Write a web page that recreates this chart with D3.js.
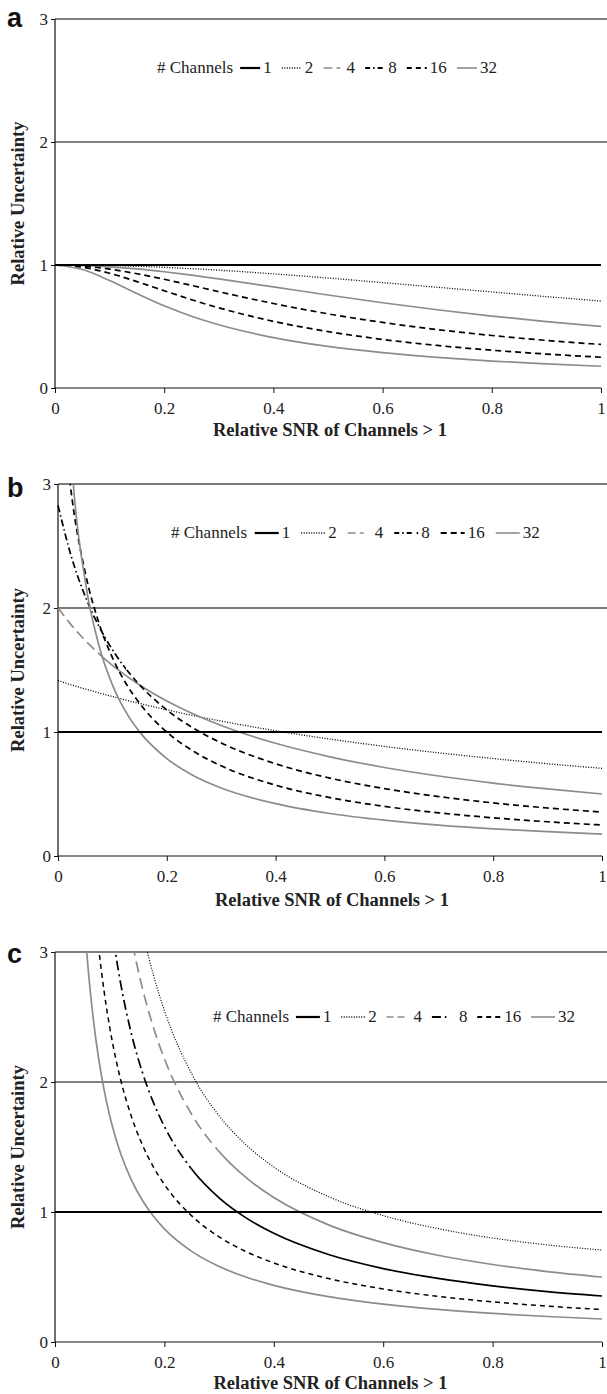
<!DOCTYPE html>
<html>
<head>
<meta charset="utf-8">
<title>Relative uncertainty vs relative SNR</title>
<style type="text/css">
	body { margin: 0; background: #fff; }
	svg { display: block; }
	.tick-label { font-family: "Liberation Serif", "DejaVu Serif", serif; font-size: 17px; fill: #222; }
	.axis-title { font-family: "Liberation Serif", "DejaVu Serif", serif; font-size: 18.5px; font-weight: bold; fill: #222; }
	.legend-text { font-family: "Liberation Serif", "DejaVu Serif", serif; font-size: 17px; fill: #222; }
	.panel-letter { font-family: "Liberation Sans", Arial, sans-serif; font-size: 27px; font-weight: bold; fill: #111; }
</style>
<script src="https://d3js.org/d3.v7.min.js"></script>
</head>
<body>
<div id="container"></div>
<script type="text/javascript">
// series labels (number of channels)
var channels = [1, 2, 4, 8, 16, 32];
var xTicks = [0, 0.2, 0.4, 0.6, 0.8, 1];
var xTickLabels = ['0', '0.2', '0.4', '0.6', '0.8', '1'];
var yTicks = [0, 1, 2, 3];

// panel a
var snrA = [0, 0.05, 0.1, 0.15, 0.2, 0.25, 0.3, 0.4, 0.5, 0.6, 0.7, 0.8, 0.9, 1];
var a1  = [1, 1, 1, 1, 1, 1, 1, 1, 1, 1, 1, 1, 1, 1];
var a2  = [1, 0.999, 0.995, 0.989, 0.981, 0.97, 0.958, 0.928, 0.894, 0.857, 0.819, 0.781, 0.743, 0.707];
var a4  = [1, 0.996, 0.985, 0.968, 0.945, 0.918, 0.887, 0.822, 0.756, 0.693, 0.636, 0.585, 0.54, 0.5];
var a8  = [1, 0.991, 0.967, 0.929, 0.884, 0.834, 0.783, 0.687, 0.603, 0.533, 0.475, 0.427, 0.387, 0.354];
var a16 = [1, 0.982, 0.933, 0.865, 0.791, 0.718, 0.652, 0.542, 0.459, 0.395, 0.346, 0.307, 0.276, 0.25];
var a32 = [1, 0.963, 0.874, 0.768, 0.668, 0.583, 0.514, 0.41, 0.338, 0.287, 0.249, 0.219, 0.196, 0.177];

// panel b
var snrB = [0, 0.025, 0.05, 0.075, 0.1, 0.125, 0.15, 0.2, 0.25, 0.3, 0.4, 0.5, 0.6, 0.7, 0.8, 0.9, 1];
var b1  = [1, 1, 1, 1, 1, 1, 1, 1, 1, 1, 1, 1, 1, 1, 1, 1, 1];
var b2  = [1.414, 1.38, 1.347, 1.316, 1.286, 1.257, 1.23, 1.179, 1.131, 1.088, 1.01, 0.943, 0.884, 0.832, 0.786, 0.744, 0.707];
var b4  = [2, 1.86, 1.739, 1.633, 1.538, 1.455, 1.379, 1.25, 1.143, 1.053, 0.909, 0.8, 0.714, 0.645, 0.588, 0.541, 0.5];
var b8  = [2.828, 2.407, 2.095, 1.855, 1.664, 1.508, 1.38, 1.178, 1.028, 0.912, 0.744, 0.628, 0.544, 0.479, 0.428, 0.387, 0.354];
var b16 = [4, 2.909, 2.286, 1.882, 1.6, 1.391, 1.231, 1.0, 0.842, 0.727, 0.571, 0.471, 0.4, 0.348, 0.308, 0.276, 0.25];
var b32 = [5.657, 3.187, 2.218, 1.701, 1.38, 1.16, 1.001, 0.786, 0.646, 0.549, 0.422, 0.343, 0.289, 0.249, 0.219, 0.196, 0.177];

// panel c (the single-channel line is flat, so it only needs its two ends)
var snrC1 = [0, 1];
var c1  = [1, 1];
var snrC = [0.05, 0.06, 0.07, 0.08, 0.09, 0.1, 0.11, 0.12, 0.14, 0.16, 0.18, 0.2, 0.25, 0.3, 0.35, 0.4, 0.5, 0.6, 0.7, 0.8, 0.9, 1];
var c2  = [10.01, 8.35, 7.16, 6.27, 5.58, 5.025, 4.573, 4.196, 3.606, 3.165, 2.822, 2.55, 2.062, 1.74, 1.514, 1.346, 1.118, 0.972, 0.872, 0.8, 0.747, 0.707];
var c4  = [8.66, 7.22, 6.19, 5.42, 4.82, 4.337, 3.944, 3.617, 3.103, 2.718, 2.419, 2.179, 1.75, 1.465, 1.262, 1.111, 0.901, 0.764, 0.667, 0.596, 0.542, 0.5];
var c8  = [6.615, 5.51, 4.727, 4.136, 3.677, 3.31, 3.009, 2.759, 2.365, 2.071, 1.841, 1.658, 1.329, 1.109, 0.953, 0.836, 0.673, 0.565, 0.489, 0.432, 0.388, 0.354];
var c16 = [4.842, 4.035, 3.459, 3.027, 2.69, 2.421, 2.201, 2.018, 1.73, 1.514, 1.346, 1.212, 0.97, 0.809, 0.694, 0.608, 0.488, 0.408, 0.351, 0.309, 0.276, 0.25];
var c32 = [3.48, 2.9, 2.486, 2.175, 1.933, 1.74, 1.582, 1.45, 1.243, 1.088, 0.967, 0.87, 0.697, 0.581, 0.498, 0.436, 0.349, 0.292, 0.251, 0.22, 0.196, 0.177];

var GRAY = '#8c8c8c';

// how each curve is stroked; "to" = x where the next style takes over
var lineStyles = {
	a: [
		[{ c: '#000', w: 2 }],
		[{ c: '#000', w: 1.3, dash: '1,1.6' }],
		[{ c: GRAY, w: 1.7 }],
		[{ c: '#000', w: 1.7, dash: '6,4' }],
		[{ c: '#000', w: 1.7, dash: '6,4' }],
		[{ c: GRAY, w: 1.7 }]
	],
	b: [
		[{ c: '#000', w: 2 }],
		[{ c: '#000', w: 1.3, dash: '1,1.6' }],
		[{ c: GRAY, w: 1.7, dash: '10,5', to: 0.075 }, { c: GRAY, w: 1.7 }],
		[{ c: '#000', w: 1.7, dash: '7,3,1.5,3', to: 0.125 }, { c: '#000', w: 1.7, dash: '6,4' }],
		[{ c: '#000', w: 1.7, dash: '6,4' }],
		[{ c: GRAY, w: 1.7 }]
	],
	c: [
		[{ c: '#000', w: 2 }],
		[{ c: '#000', w: 1.2, dash: '1,1.6' }],
		[{ c: GRAY, w: 1.7, dash: '11,6', to: 0.3 }, { c: GRAY, w: 1.7 }],
		[{ c: '#000', w: 1.7, dash: '10,4,2,4', to: 0.25 }, { c: '#000', w: 1.7 }],
		[{ c: '#000', w: 1.5, dash: '5,4' }],
		[{ c: GRAY, w: 1.7 }]
	]
};

// legend glyphs
var legendStyles = {
	a: [{ c: '#000', w: 2.2 }, { c: '#000', w: 1.3, dash: '1,1.5' }, { c: GRAY, w: 1.6, dash: '9,4,4,20' },
		{ c: '#000', w: 1.8, dash: '5,3,1.5,3,5' }, { c: '#000', w: 1.8, dash: '5,4' }, { c: GRAY, w: 1.6 }],
	b: [{ c: '#000', w: 2.2 }, { c: '#000', w: 1.3, dash: '1,1.5' }, { c: GRAY, w: 1.6, dash: '8,4,4,20' },
		{ c: '#000', w: 1.8, dash: '5,3,1.5,3,5' }, { c: '#000', w: 1.8, dash: '6,4' }, { c: GRAY, w: 1.6 }],
	c: [{ c: '#000', w: 2.2 }, { c: '#000', w: 1.3, dash: '1,1.5' }, { c: GRAY, w: 1.6, dash: '7,4,7,20' },
		{ c: '#000', w: 1.8, dash: '9,4,1.5,20' }, { c: '#000', w: 1.8, dash: '5,4' }, { c: GRAY, w: 1.6 }]
};

var panels = [
	{ key: 'a', snr: [snrA, snrA, snrA, snrA, snrA, snrA], series: [a1, a2, a4, a8, a16, a32],
		left: 55, right: 601, top: 19, bottom: 388,
		grid: { c: '#000', w: 1 }, legend: { x0: 157, x1: 500, y: 73, len: 20 }, letterY: 27, xTitleY: 436 },
	{ key: 'b', snr: [snrB, snrB, snrB, snrB, snrB, snrB], series: [b1, b2, b4, b8, b16, b32],
		left: 58, right: 602, top: 484, bottom: 856,
		grid: { c: '#7a7a7a', w: 1.8 }, legend: { x0: 171, x1: 543, y: 538, len: 24 }, letterY: 497, xTitleY: 906 },
	{ key: 'c', snr: [snrC1, snrC, snrC, snrC, snrC, snrC], series: [c1, c2, c4, c8, c16, c32],
		left: 55, right: 602, top: 952, bottom: 1342,
		grid: { c: '#000', w: 1 }, legend: { x0: 213, x1: 578, y: 1022, len: 24 }, letterY: 963, xTitleY: 1389 }
];

var width = 607, height = 1394;

var svg = d3.select('#container').append('svg')
		.attr('width', width)
		.attr('height', height);
var defs = svg.append('defs');

panels.forEach(function (p) {
	var g = svg.append('g').attr('class', 'panel-' + p.key);
	var x = d3.scaleLinear().domain([0, 1]).range([p.left, p.right]);
	var y = d3.scaleLinear().domain([0, 3]).range([p.bottom, p.top]);

	// gridlines at 2 and 3 run on to the page edge
	g.selectAll('.grid')
			.data([2, 3])
		.enter().append('line')
			.attr('x1', p.left).attr('x2', width)
			.attr('y1', function (d) { return y(d); })
			.attr('y2', function (d) { return y(d); })
			.attr('stroke', p.grid.c)
			.attr('stroke-width', p.grid.w);

	// axes
	var yAxis = d3.axisLeft(y).tickValues(yTicks).tickSize(4).tickFormat(d3.format('d'));
	var xAxis = d3.axisBottom(x).tickValues(xTicks).tickSize(5).tickFormat(function (d, i) { return xTickLabels[i]; });

	var gy = g.append('g').attr('transform', 'translate(' + p.left + ',0)').call(yAxis);
	var gx = g.append('g').attr('transform', 'translate(0,' + p.bottom + ')').call(xAxis);
	[gx, gy].forEach(function (ax) {
		ax.attr('font-family', null).attr('font-size', null);
		ax.select('.domain').attr('stroke', '#111').attr('stroke-width', 1.2);
		ax.selectAll('.tick line').attr('stroke', '#111');
		ax.selectAll('.tick text').attr('class', 'tick-label');
	});
	gy.select('.domain').attr('d', 'M0,' + (p.bottom + 1) + 'V' + p.top);
	gx.select('.domain').attr('d', 'M' + p.left + ',0H' + p.right);
	gy.selectAll('.tick text').attr('x', -7);
	gx.selectAll('.tick text').attr('y', 26).attr('dy', null);

	// curves
	var line = d3.line()
			.x(function (d) { return x(d[0]); })
			.y(function (d) { return y(d[1]); })
			.curve(d3.curveMonotoneX);

	var order = [1, 2, 3, 4, 5, 0];
	order.forEach(function (si) {
		var xs = p.snr[si];
		var pts = xs.map(function (s, i) { return [s, p.series[si][i]]; });
		var segs = lineStyles[p.key][si];
		var from = 0;
		segs.forEach(function (st, k) {
			var to = (st.to !== undefined) ? st.to : 1;
			var id = 'clip-' + p.key + '-' + si + '-' + k;
			var x0 = k === 0 ? p.left - 2 : x(from);
			var x1 = k === segs.length - 1 ? p.right + 2 : x(to);
			defs.append('clipPath').attr('id', id)
				.append('rect')
					.attr('x', x0)
					.attr('y', p.top)
					.attr('width', x1 - x0)
					.attr('height', p.bottom - p.top);
			g.append('path')
				.datum(pts)
				.attr('clip-path', 'url(#' + id + ')')
				.attr('fill', 'none')
				.attr('stroke', st.c)
				.attr('stroke-width', st.w)
				.attr('stroke-dasharray', st.dash || null)
				.attr('d', line);
			from = to;
		});
	});

	// legend
	var lg = g.append('g');
	var head = lg.append('text').attr('class', 'legend-text')
			.attr('x', p.legend.x0).attr('y', p.legend.y).text('# Channels');
	var used = head.node().getComputedTextLength();
	var labels = channels.map(function (n) {
		var t = lg.append('text').attr('class', 'legend-text').attr('y', p.legend.y).text(n);
		var w = t.node().getComputedTextLength();
		used += p.legend.len + 3 + w;
		return { t: t, w: w };
	});
	var gap = (p.legend.x1 - p.legend.x0 - used) / 6;
	var cx = p.legend.x0 + head.node().getComputedTextLength();
	labels.forEach(function (l, i) {
		var st = legendStyles[p.key][i];
		cx += gap * 0.7;
		lg.append('line')
			.attr('x1', cx).attr('x2', cx + p.legend.len)
			.attr('y1', p.legend.y - 5).attr('y2', p.legend.y - 5)
			.attr('stroke', st.c).attr('stroke-width', st.w)
			.attr('stroke-dasharray', st.dash || null);
		cx += p.legend.len + 3;
		l.t.attr('x', cx);
		cx += l.w + gap * 0.3;
	});

	// titles
	g.append('text').attr('class', 'axis-title')
		.attr('text-anchor', 'middle')
		.attr('x', (p.left + p.right) / 2 + 2)
		.attr('y', p.xTitleY)
		.text('Relative SNR of Channels > 1');
	g.append('text').attr('class', 'axis-title')
		.attr('text-anchor', 'middle')
		.attr('transform', 'translate(24,' + ((p.top + p.bottom) / 2) + ') rotate(-90)')
		.text('Relative Uncertainty');
	g.append('text').attr('class', 'panel-letter')
		.attr('x', 7).attr('y', p.letterY)
		.text(p.key);
});
</script>
</body>
</html>
